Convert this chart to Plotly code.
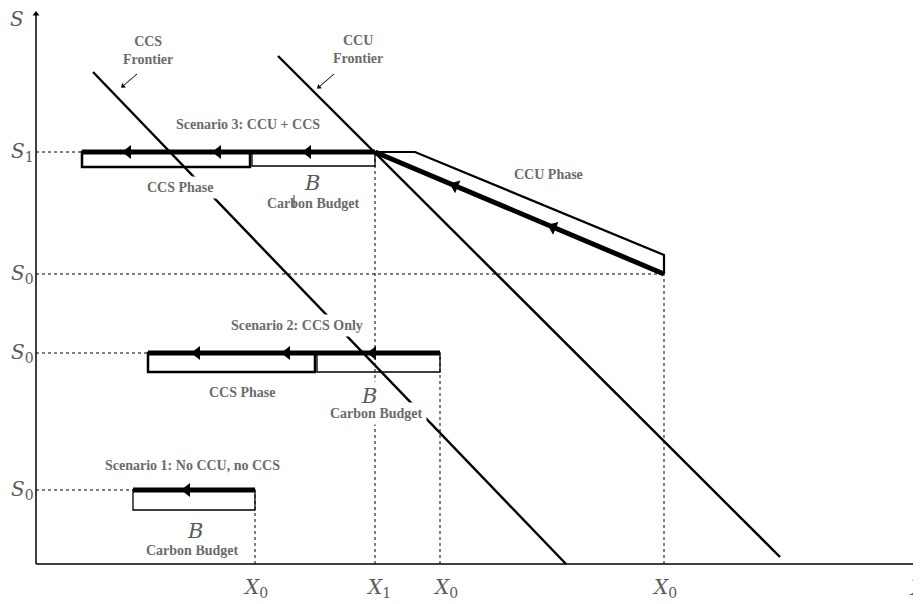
import math
import plotly.graph_objects as go

# ---------------- data (diagram units: origin at axes corner) ----------------
# Stock levels
S1 = 412
S0_SC3 = 290
S0_SC2 = 211
S0_SC1 = 74
# Horizontal positions
X0_SC1 = 219
X1 = 339
X0_SC2 = 404
X0_SC3 = 628
# Scenario 3: CCU + CCS
SC3_START = 46
SC3_CCS_END = 214
SC3_BOX_BOTTOM = 397
SC3_CCU_KINK_X = 379
SC3_CCU_TOP_END = 309
SC3_ARROWS_X = [92, 182, 272]
SC3_DIAG_ARROWS_X = [419, 517]
# Scenario 2: CCS only
SC2_START = 112
SC2_CCS_END = 279
SC2_BOX_BOTTOM = 192
SC2_ARROWS_X = [161, 251, 337]
# Scenario 1: no CCU, no CCS
SC1_START = 97
SC1_BOX_BOTTOM = 54
SC1_ARROWS_X = [151]
# Frontiers (two end points each)
CCS_FRONTIER_X = [57, 530]
CCS_FRONTIER_Y = [492, 0]
CCU_FRONTIER_X = [242, 744]
CCU_FRONTIER_Y = [508, 7]
# Frontier label pointers (tail x, tail y, head x, head y)
POINTERS = [(101, 490, 87, 478), (298, 490, 283, 477)]
# small stray tick in the scenario 3 budget label
BUDGET_TICK_X = [258, 258]
BUDGET_TICK_Y = [371, 356]
# Axis extents
X_AXIS_END = 885
Y_AXIS_END = 550

# text labels: (text, x, y)
TEXT_LABELS = [
    ("CCS<br>Frontier", 112, 514),
    ("CCU<br>Frontier", 322, 515),
    ("Scenario 3: CCU + CCS", 212, 440),
    ("CCS Phase", 144, 377),
    ("Carbon Budget", 277, 361),
    ("CCU Phase", 512, 390),
    ("Scenario 2: CCS Only", 261, 239),
    ("CCS Phase", 206, 172),
    ("Carbon Budget", 340, 151),
    ("Scenario 1: No CCU, no CCS", 156, 99),
    ("Carbon Budget", 156, 14),
]
B_LABELS = [(276, 381), (333, 168), (159, 33)]
S_TICKS = [("<i>S</i><sub>1</sub>", S1), ("<i>S</i><sub>0</sub>", S0_SC3),
           ("<i>S</i><sub>0</sub>", S0_SC2), ("<i>S</i><sub>0</sub>", S0_SC1)]
X_TICKS = [("<i>X</i><sub>0</sub>", X0_SC1), ("<i>X</i><sub>1</sub>", X1 + 3),
           ("<i>X</i><sub>0</sub>", X0_SC2 + 5), ("<i>X</i><sub>0</sub>", X0_SC3)]

# ---------------- figure ----------------
BLACK = "black"
GRAY_TXT = "#6b6b6b"
MATH_TXT = "#5a5a5a"
LABEL_FONT = dict(family="Liberation Serif", size=14, color=GRAY_TXT, weight="bold")
MATH_FONT = dict(family="DejaVu Serif", size=20, color=MATH_TXT)

fig = go.Figure()
shapes = []

def seg(x, y, width=2, dash=None, color=BLACK):
    fig.add_trace(go.Scatter(x=x, y=y, mode="lines", hoverinfo="skip",
                             line=dict(color=color, width=width, dash=dash),
                             showlegend=False))

def heads(x, y, size, angle):
    fig.add_trace(go.Scatter(x=x, y=y, mode="markers", hoverinfo="skip", showlegend=False,
                             marker=dict(symbol="triangle-left", size=size, color=BLACK,
                                         angle=angle, line=dict(width=0))))

def box(x0, x1, y0, y1, width):
    shapes.append(dict(type="rect", xref="x", yref="y", x0=x0, x1=x1, y0=y0, y1=y1,
                       line=dict(color=BLACK, width=width), fillcolor="rgba(0,0,0,0)",
                       layer="below"))

# axes
seg([0, X_AXIS_END + 40], [0, 0], width=1.5)
seg([0, 0], [0, Y_AXIS_END], width=1.5)
heads([0], [Y_AXIS_END], 6, 90)

# dotted guide lines
seg([0, SC3_START], [S1, S1], width=1, dash="dot")
seg([0, X0_SC3], [S0_SC3, S0_SC3], width=1, dash="dot")
seg([0, SC2_START], [S0_SC2, S0_SC2], width=1, dash="dot")
seg([0, SC1_START], [S0_SC1, S0_SC1], width=1, dash="dot")
seg([X0_SC1, X0_SC1], [0, S0_SC1], width=1, dash="dot")
seg([X1, X1], [0, S1], width=1, dash="dot")
seg([X0_SC2, X0_SC2], [0, S0_SC2], width=1, dash="dot")
seg([X0_SC3, X0_SC3], [0, S0_SC3], width=1, dash="dot")

# frontiers
seg(CCS_FRONTIER_X, CCS_FRONTIER_Y, width=2.4)
seg(CCU_FRONTIER_X, CCU_FRONTIER_Y, width=2.4)

# frontier pointers
for tx, ty, hx_, hy_ in POINTERS:
    seg([tx, hx_], [ty, hy_], width=1)
    a = math.degrees(math.atan2(ty - hy_, tx - hx_))
    heads([hx_], [hy_], 5, -a)

# boxes
box(SC3_START, SC3_CCS_END, SC3_BOX_BOTTOM, S1, 2.5)
box(SC3_CCS_END + 2, X1, SC3_BOX_BOTTOM + 1, S1, 1.3)
box(SC2_START, SC2_CCS_END, SC2_BOX_BOTTOM, S0_SC2, 2.5)
box(SC2_CCS_END + 2, X0_SC2, SC2_BOX_BOTTOM, S0_SC2, 1.3)
box(SC1_START, X0_SC1, SC1_BOX_BOTTOM, S0_SC1, 1.3)

# CCU phase outline
seg([X1, SC3_CCU_KINK_X, X0_SC3, X0_SC3], [S1, S1, SC3_CCU_TOP_END, S0_SC3], width=2.2)

# thick paths
seg([SC3_START, X1], [S1, S1], width=5)
seg([X1, X0_SC3], [S1, S0_SC3], width=5)
seg([SC2_START, X0_SC2], [S0_SC2, S0_SC2], width=5)
seg([SC1_START, X0_SC1], [S0_SC1, S0_SC1], width=5)

# arrow heads on the paths
hx = SC3_ARROWS_X + SC2_ARROWS_X + SC1_ARROWS_X
hy = [S1] * len(SC3_ARROWS_X) + [S0_SC2] * len(SC2_ARROWS_X) + [S0_SC1] * len(SC1_ARROWS_X)
heads(hx, hy, 12, 0)
slope = (S0_SC3 - S1) / (X0_SC3 - X1)
dy = [S1 + (x - X1) * slope for x in SC3_DIAG_ARROWS_X]
heads(SC3_DIAG_ARROWS_X, dy, 12, math.degrees(math.atan(-slope)))

ann = []
for t, x, y in TEXT_LABELS:
    ann.append(dict(x=x, y=y, xref="x", yref="y", text=t, showarrow=False,
                    font=LABEL_FONT, bgcolor="white", borderpad=3))
for x, y in B_LABELS:
    ann.append(dict(x=x, y=y, xref="x", yref="y", text="<i>B</i>", showarrow=False,
                    font=dict(family="DejaVu Serif", size=21, color=MATH_TXT),
                    bgcolor="white", borderpad=2))
# stray tick drawn over the budget label
ann.append(dict(x=BUDGET_TICK_X[1], y=BUDGET_TICK_Y[1], ax=BUDGET_TICK_X[0],
                ay=BUDGET_TICK_Y[0], xref="x", yref="y", axref="x", ayref="y",
                showarrow=True, arrowhead=0, arrowwidth=1, arrowcolor="#333333",
                text=" ", font=dict(size=1)))
ann.append(dict(x=-19, y=545, xref="x", yref="y", text="<i>S</i>", showarrow=False,
                font=MATH_FONT))
for t, y in S_TICKS:
    ann.append(dict(x=-14, y=y, xref="x", yref="y", text=t, showarrow=False, font=MATH_FONT))
for t, x in X_TICKS:
    ann.append(dict(x=x, y=-24, xref="x", yref="y", text=t, showarrow=False, font=MATH_FONT))
ann.append(dict(x=871, y=-24, xref="x", yref="y", text="<i>X</i>", showarrow=False,
                xanchor="left", font=MATH_FONT))

# the page adds an 8px body margin, so the visible window is offset by 8px
fig.update_layout(
    width=921, height=604, margin=dict(l=0, r=0, t=0, b=0),
    paper_bgcolor="white", plot_bgcolor="white",
    xaxis=dict(range=[-28, 893], visible=False, fixedrange=True),
    yaxis=dict(range=[-48, 556], visible=False, fixedrange=True),
    shapes=shapes, annotations=ann, showlegend=False,
)
fig.write_html("out.html")
